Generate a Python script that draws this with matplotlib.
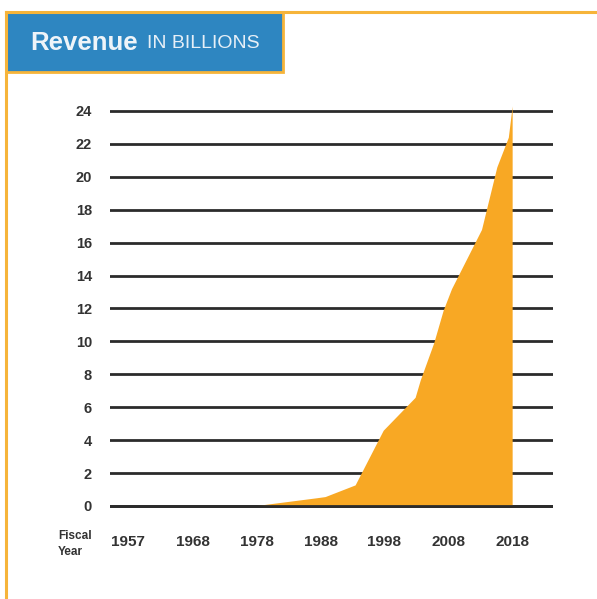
import matplotlib
matplotlib.use("Agg")
import matplotlib.pyplot as plt
from matplotlib.patches import Rectangle
from matplotlib.lines import Line2D

# Data
years = [1957, 1968, 1977.4, 1987.4, 1988.7, 1993.4, 1997.8, 2002.8, 2003.6,
         2005.7, 2007.2, 2008.5, 2013.2, 2015.6, 2017.4, 2018.0]
revenue = [0.0, 0.0, 0.0, 0.5, 0.57, 1.28, 4.6, 6.6, 7.65,
           9.9, 11.9, 13.2, 16.8, 20.6, 22.4, 24.3]
tick_years = [1957.8, 1968, 1978, 1988, 1998, 2008, 2018]
tick_labels = ["1957", "1968", "1978", "1988", "1998", "2008", "2018"]
y_ticks = list(range(0, 25, 2))

plt.rcParams['font.family'] = ['Liberation Sans', 'DejaVu Sans']

W, H = 597, 599
fig = plt.figure(figsize=(W / 100, H / 100), dpi=100)
fig.patch.set_facecolor('white')

orange = '#F8A824'
frame_orange = '#F6B43A'
blue = '#2E86C1'
dark = '#2b2b2b'

# Axes placement
left_px, right_px = 110, 553
ax = fig.add_axes([left_px / W, 1 - 510.9 / H, (right_px - left_px) / W, (510.9 - 102.7) / H])
ax.set_xlim(1955.0, 2024.4)
ax.set_ylim(-0.3, 24.5)

for y in y_ticks:
    ax.axhline(y, color=dark, lw=2.0, zorder=1)

ax.fill_between(years, revenue, 0, color=orange, lw=0, zorder=2)
ax.axhline(0, color=dark, lw=2.0, zorder=3)

for s in ax.spines.values():
    s.set_visible(False)
ax.set_yticks(y_ticks)
ax.set_yticklabels([str(v) for v in y_ticks], fontsize=10.5, fontweight='bold', color='#333333')
ax.set_xticks(tick_years)
ax.set_xticklabels(tick_labels, fontsize=11, fontweight='bold', color='#333333')
ax.tick_params(axis='both', length=0)
ax.tick_params(axis='y', pad=13)
ax.tick_params(axis='x', pad=17)
ax.set_facecolor('none')

# "Fiscal Year" label
fig.text(58 / W, 1 - 544 / H, "Fiscal\nYear", fontsize=8.5, fontweight='bold',
         color='#333333', ha='left', va='center', linespacing=1.45)

# Frame lines
fig.add_artist(Line2D([6 / W, 1.0], [1 - 11.5 / H, 1 - 11.5 / H], color=frame_orange, lw=2.2,
                      transform=fig.transFigure))
fig.add_artist(Line2D([6 / W, 6 / W], [0, 1 - 11.5 / H], color=frame_orange, lw=2.2,
                      transform=fig.transFigure))

# Title box
fig.add_artist(Rectangle((6 / W, 1 - 72 / H), (283 - 6) / W, (72 - 12) / H,
                         facecolor=blue, edgecolor=frame_orange, lw=2, transform=fig.transFigure))
t1 = fig.text(30 / W, 1 - 43 / H, "Revenue", fontsize=18.5, fontweight='bold', color='#EEF4F9',
              ha='left', va='center')
fig.canvas.draw()
bb = t1.get_window_extent()
fig.text((bb.x1 + 9) / W, 1 - 44 / H, "IN BILLIONS", fontsize=14, color='#E6EFF7',
         ha='left', va='center')

fig.savefig("out.png", dpi=100, facecolor='white')
